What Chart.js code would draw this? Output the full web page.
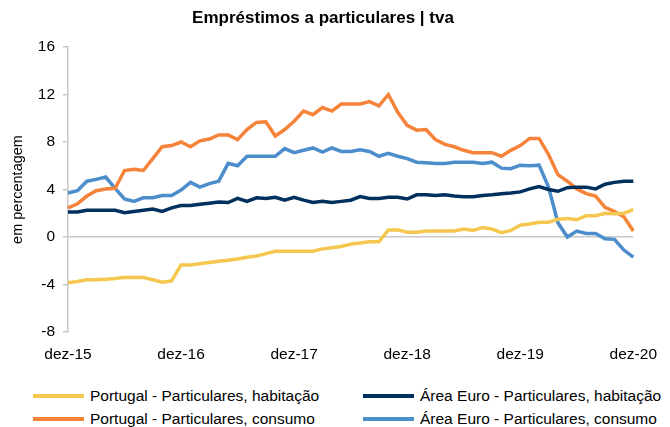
<!DOCTYPE html>
<html>
<head>
<meta charset="utf-8">
<script src="https://cdn.jsdelivr.net/npm/chart.js@4.4.0/dist/chart.umd.min.js"></script>
<style>
  body { margin: 0; background: #fff; font-family: "Liberation Sans", Arial, sans-serif; }
  #wrap { position: relative; width: 670px; height: 427px; }
  #box { position: absolute; left: 0; top: 0; width: 670px; height: 372px; }
  #legend { position: absolute; left: 33px; top: 384px; display: grid;
            grid-template-columns: 330px 300px; grid-auto-rows: 23px; font-size: 15.5px; color: #000; }
  .item { display: flex; align-items: center; white-space: nowrap; }
  .sw { width: 51px; height: 4px; margin-right: 6px; }
</style>
</head>
<body>
<div id="wrap">
  <div id="box"><canvas id="myChart"></canvas></div>
  <div id="legend"></div>
</div>
<script>
// meses de dez-15 a dez-20
const meses = ['jan','fev','mar','abr','mai','jun','jul','ago','set','out','nov','dez'];
const labels = ['dez-15'];
for (let a = 16; a <= 20; a++) {
  meses.forEach(m => labels.push(m + '-' + a));
}

const ptHabitacao = [-3.85,-3.75,-3.6,-3.6,-3.55,-3.5,-3.4,-3.4,-3.4,-3.6,-3.8,-3.7,
  -2.35,-2.35,-2.25,-2.15,-2.05,-1.95,-1.85,-1.7,-1.6,-1.4,-1.2,-1.2,
  -1.2,-1.2,-1.2,-1.0,-0.9,-0.8,-0.6,-0.5,-0.4,-0.4,0.6,0.6,
  0.4,0.4,0.5,0.5,0.5,0.5,0.67,0.55,0.8,0.67,0.37,0.55,
  1.0,1.1,1.25,1.25,1.5,1.55,1.45,1.8,1.8,2.0,1.95,2.0,2.3];

const aeHabitacao = [2.1,2.1,2.25,2.25,2.25,2.25,2.05,2.15,2.25,2.35,2.15,2.45,
  2.65,2.65,2.75,2.85,2.95,2.9,3.25,3.0,3.3,3.25,3.35,3.1,
  3.35,3.1,2.9,3.0,2.9,3.0,3.1,3.4,3.25,3.25,3.35,3.35,
  3.2,3.55,3.55,3.5,3.55,3.45,3.4,3.4,3.5,3.55,3.65,3.7,
  3.8,4.05,4.25,4.0,3.85,4.15,4.2,4.2,4.05,4.45,4.6,4.7,4.7];

const ptConsumo = [2.45,2.8,3.45,3.9,4.05,4.1,5.6,5.7,5.6,6.6,7.6,7.7,
  8.0,7.6,8.1,8.25,8.6,8.6,8.2,9.05,9.65,9.7,8.5,9.05,
  9.75,10.6,10.3,10.9,10.6,11.2,11.2,11.2,11.4,11.05,12.0,10.5,
  9.4,9.0,9.05,8.2,7.8,7.6,7.3,7.1,7.1,7.1,6.8,7.3,
  7.7,8.3,8.3,6.95,5.25,4.7,4.05,3.65,3.45,2.5,2.15,1.7,0.5];

const aeConsumo = [3.7,3.9,4.7,4.85,5.05,4.1,3.2,3.0,3.3,3.3,3.5,3.5,
  3.95,4.6,4.2,4.5,4.7,6.2,6.0,6.8,6.8,6.8,6.8,7.45,
  7.1,7.3,7.5,7.15,7.5,7.2,7.2,7.35,7.2,6.8,7.05,6.8,
  6.6,6.3,6.25,6.2,6.2,6.3,6.3,6.3,6.2,6.3,5.8,5.75,
  6.05,6.0,6.05,4.2,1.2,0.0,0.5,0.3,0.3,-0.15,-0.2,-1.1,-1.7];

const nomes = ['Portugal - Particulares, habitação', 'Área Euro - Particulares, habitação',
               'Portugal - Particulares, consumo', 'Área Euro - Particulares, consumo'];
const cores = ['#F5C74E', '#00305E', '#F5843A', '#4C8DCB'];
const series = [ptHabitacao, aeHabitacao, ptConsumo, aeConsumo];

const cinza = '#c8c8c8';
const fonte = "'Liberation Sans', Arial, sans-serif";

var ctx = document.getElementById('myChart').getContext('2d');

var config = {
  type: 'line',
  data: {
    labels: labels,
    datasets: series.map((s, i) => ({
      label: nomes[i],
      data: s,
      borderColor: cores[i],
      backgroundColor: cores[i],
      borderWidth: 3.5,
      pointRadius: 0,
      tension: 0,
      fill: false
    }))
  },
  options: {
    responsive: true,
    maintainAspectRatio: false,
    animation: false,
    layout: { padding: { left: 0, right: 24, top: 8, bottom: 0 } },
    plugins: {
      legend: { display: false },
      tooltip: { enabled: false },
      title: {
        display: true,
        text: 'Empréstimos a particulares | tva',
        color: '#000',
        font: { family: fonte, size: 17, weight: 'bold' },
        padding: { top: 0, bottom: 18.6 }
      }
    },
    scales: {
      x: {
        offset: false,
        grid: { display: false, drawTicks: false },
        border: { display: false },
        ticks: {
          autoSkip: false,
          maxRotation: 0,
          padding: 13,
          color: '#000',
          font: { family: fonte, size: 15.5 },
          callback: function (v, i) { return i % 12 === 0 ? this.getLabelForValue(v) : ''; }
        },
        afterFit: function (scale) { scale.height = 40; }
      },
      y: {
        min: -8,
        max: 16,
        ticks: {
          stepSize: 4,
          padding: 8,
          color: '#000',
          font: { family: fonte, size: 15.5 }
        },
        grid: {
          color: c => c.tick && c.tick.value === 0 ? cinza : 'rgba(0,0,0,0)',
          tickColor: cinza,
          tickLength: 5,
          lineWidth: 1.5
        },
        border: { display: true, color: cinza, width: 1.5 },
        title: {
          display: true,
          text: 'em percentagem',
          color: '#000',
          font: { family: fonte, size: 14.5 },
          padding: { top: 9, bottom: 0 }
        },
        afterFit: function (scale) { scale.width = 68; }
      }
    }
  }
};

var chart = new Chart(ctx, config);

// legenda em grelha (duas colunas)
const leg = document.getElementById('legend');
chart.data.datasets.forEach(ds => {
  const it = document.createElement('div');
  it.className = 'item';
  const sw = document.createElement('span');
  sw.className = 'sw';
  sw.style.background = ds.borderColor;
  const tx = document.createElement('span');
  tx.textContent = ds.label;
  it.appendChild(sw);
  it.appendChild(tx);
  leg.appendChild(it);
});
</script>
</body>
</html>
